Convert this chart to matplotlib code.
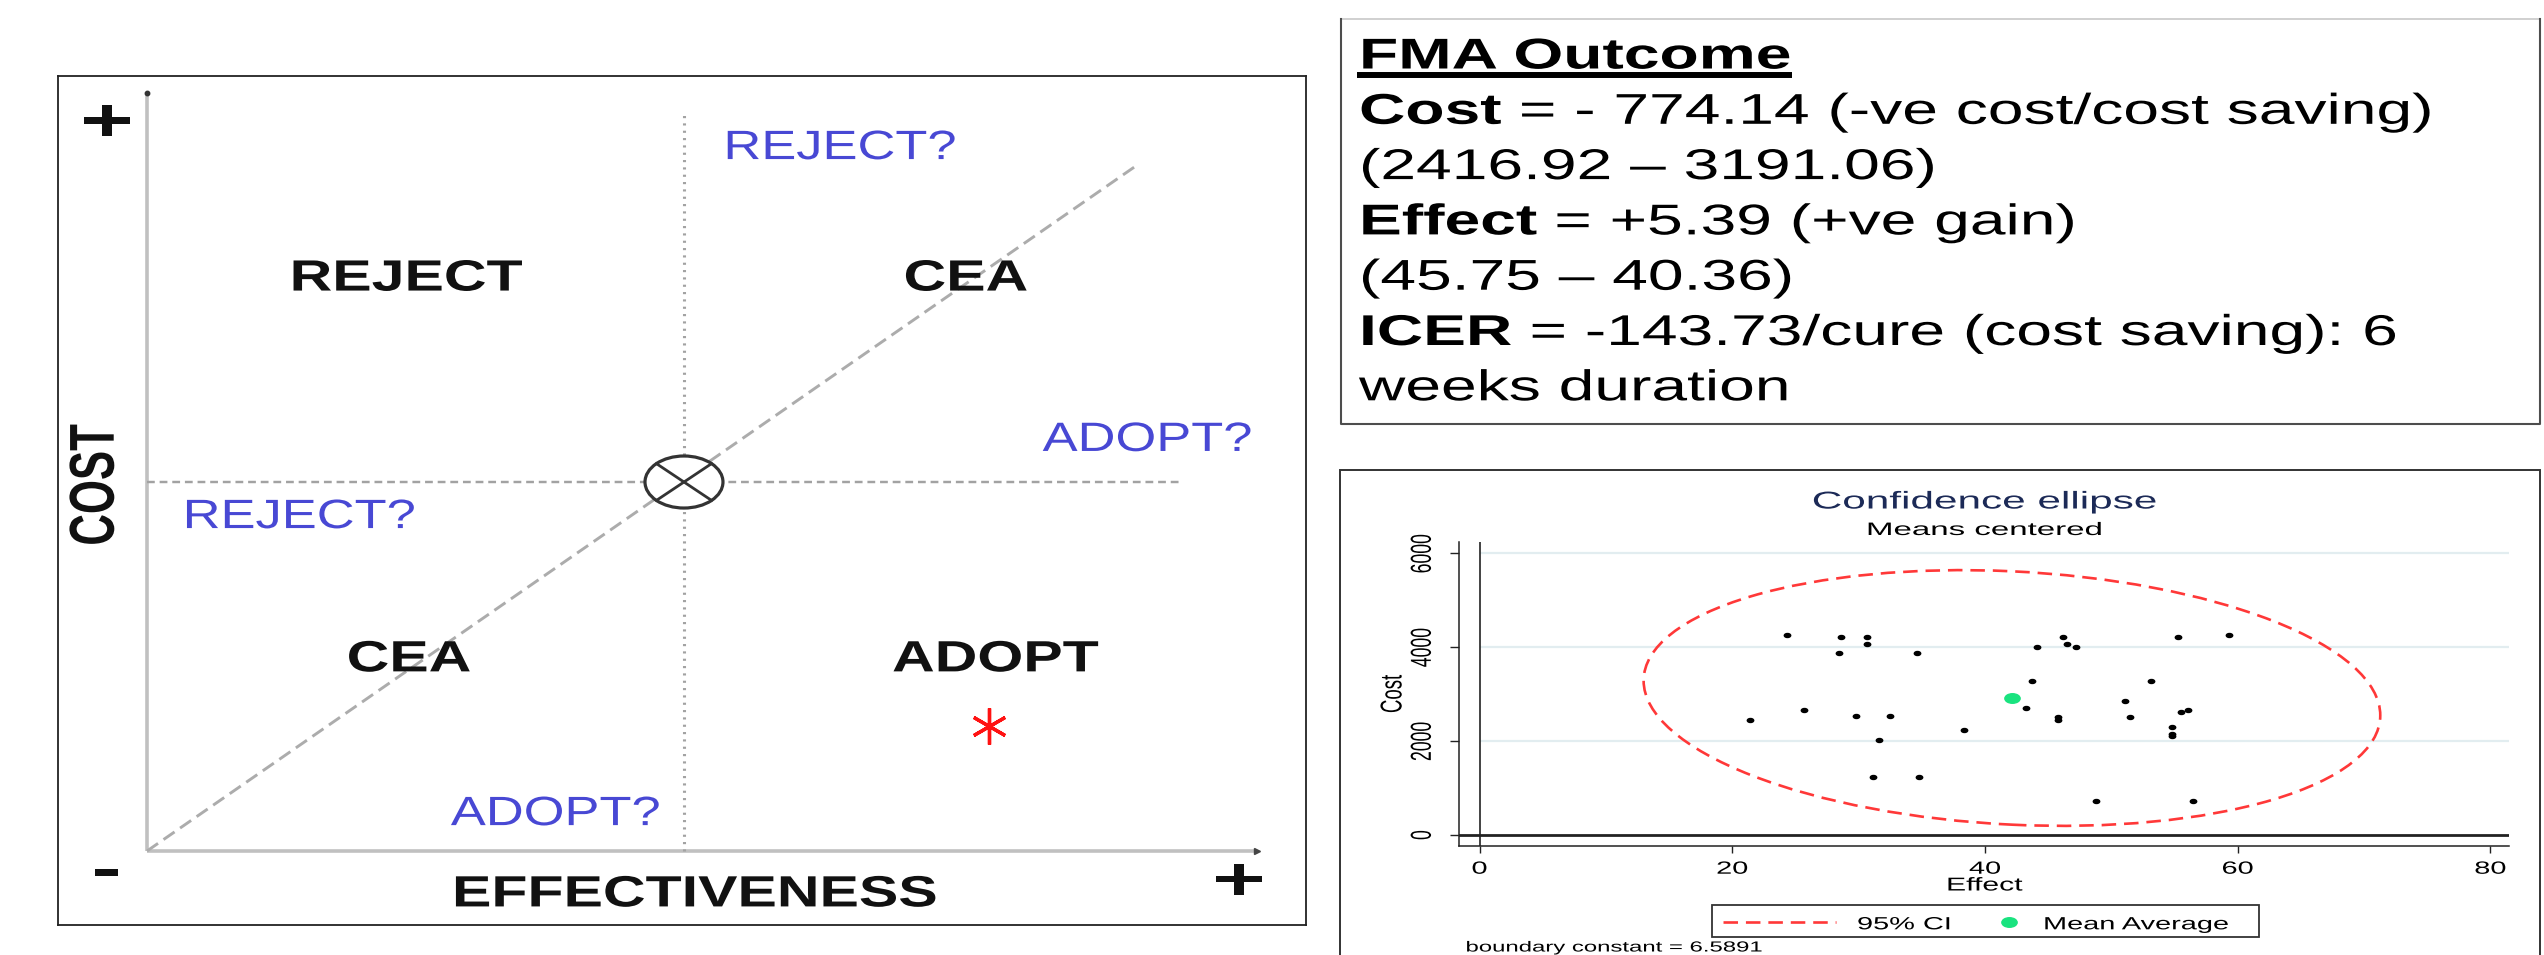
import matplotlib
matplotlib.use('Agg')
import numpy as np
import matplotlib.pyplot as plt
from matplotlib.patheffects import AbstractPathEffect
from matplotlib.transforms import Affine2D
from matplotlib.patches import Ellipse, Rectangle
from matplotlib.lines import Line2D
from matplotlib.path import Path

plt.rcParams['font.family'] = ['Liberation Sans', 'DejaVu Sans']

W, H, DPI = 2544, 955, 100

# ---------------- data ----------------
effect = [24.32, 28.60, 30.68, 30.62, 28.48, 34.59, 44.13, 46.20, 46.51, 47.18, 55.31, 59.28,
          43.70, 53.17, 51.09, 51.46, 43.27, 45.78, 45.78, 54.82, 54.82, 54.82, 55.49, 56.10,
          21.39, 25.67, 29.82, 32.45, 31.60, 38.32, 31.17, 34.78, 48.77, 56.47]
cost = [4258, 4230, 4230, 4073, 3874, 3874, 4002, 4230, 4073, 4002, 4216, 4258,
        3277, 3277, 2865, 2509, 2701, 2509, 2453, 2310, 2147, 2111, 2630, 2659,
        2453, 2659, 2538, 2538, 2033, 2239, 1244, 1244, 718, 718]
mean_effect = 42.13
mean_cost = 2920
ci_half_effect = 29.15
ci_half_cost = 2725
ci_rho = -0.1355
boundary_constant = 6.5891

effect_ticks = [0, 20, 40, 60, 80]
cost_ticks = [0, 2000, 4000, 6000]

quadrant_labels = ['REJECT', 'CEA', 'CEA', 'ADOPT']
uncertain_labels = ['REJECT?', 'ADOPT?', 'REJECT?', 'ADOPT?']
outcome_effectiveness = [0.568]
outcome_cost = [-0.661]

summary_bold = ['FMA Outcome', 'Cost', '', 'Effect', '', 'ICER', '']
summary_regular = ['', ' = - 774.14 (-ve cost/cost saving)', '(2416.92 \u2013 3191.06)',
                   ' = +5.39 (+ve gain)', '(45.75 \u2013 40.36)',
                   ' = -143.73/cure (cost saving): 6', 'weeks duration']


# ---------------- helpers ----------------
class Stretch(AbstractPathEffect):
    """Stretch glyph outlines (the source image is horizontally stretched)."""
    def __init__(self, sx=1.0, sy=1.0, anchor='center'):
        super().__init__()
        self.sx, self.sy, self.anchor = sx, sy, anchor

    def draw_path(self, renderer, gc, tpath, affine, rgbFace=None):
        ext = tpath.get_extents()
        cx = 0.0 if self.anchor == 'left' else (ext.x0 + ext.x1) / 2
        cy = (ext.y0 + ext.y1) / 2
        pre = Affine2D().translate(-cx, -cy).scale(self.sx, self.sy).translate(cx, cy)
        renderer.draw_path(gc, tpath, pre + affine, rgbFace)


def fx(x):
    return x / W


def fy(y):
    return 1 - y / H


fig = plt.figure(figsize=(W / DPI, H / DPI), dpi=DPI)
fig.patch.set_facecolor('white')
renderer = fig.canvas.get_renderer()

# ================= Left panel: cost-effectiveness plane =================
axL = fig.add_axes([fx(58), fy(925), (1306 - 58) / W, (925 - 76) / H])
axL.set_xlim(-1.1657, 1.1583)
axL.set_ylim(-1.2005, 1.1003)
axL.set_xticks([])
axL.set_yticks([])
for sp in axL.spines.values():
    sp.set_color('#222222')
    sp.set_linewidth(1.3)

axis_col = '#c0c0c0'
axL.plot([-1, -1], [-1, 1.054], color=axis_col, lw=2.6, solid_capstyle='butt', zorder=1)
axL.plot([-1, 1.067], [-1, -1], color=axis_col, lw=2.6, solid_capstyle='butt', zorder=1)
axL.plot([-1], [1.054], marker='o', ms=3.2, color='#333333', zorder=2)
axL.plot([1.067], [-1], marker='>', ms=5, color='#444444', zorder=2)

# dotted cross-hair
axL.plot([0, 0], [-1, 1.0], color='#a2a2a2', lw=2.2, linestyle=(0, (0.7, 1.7)), zorder=1)
axL.plot([-1, 0.925], [0, 0], color='#a2a2a2', lw=1.75, linestyle=(0, (3.2, 2.0)), zorder=1)
# dashed threshold line
axL.plot([-1, 0.845], [-1, 0.86], color='#acacac', lw=2.1, linestyle=(0, (4.6, 2.3)), zorder=1)

# origin symbol
a, b = 0.0726, 0.0705
axL.add_patch(Ellipse((0, 0), 2 * a, 2 * b, facecolor='white', edgecolor='#333333', lw=2.3, zorder=3))
axL.plot([-0.707 * a, 0.707 * a], [0.707 * b, -0.707 * b], color='#333333', lw=2.0, zorder=4)
axL.plot([-0.707 * a, 0.707 * a], [-0.707 * b, 0.707 * b], color='#333333', lw=2.0, zorder=4)

bold_kw = dict(fontsize=31.5, fontweight='bold', color='#111111', ha='center', va='center',
               path_effects=[Stretch(1.35, 1.0)], zorder=5)
quad_pos = [(-0.517, 0.550), (0.525, 0.550), (-0.512, -0.482), (0.580, -0.482)]
for s, (x, y) in zip(quadrant_labels, quad_pos):
    axL.text(x, y, s, **bold_kw)

blue_kw = dict(fontsize=29.5, color='#4848d4', ha='center', va='center',
               path_effects=[Stretch(1.28, 1.0)], zorder=5)
unc_pos = [(0.291, 0.905), (0.863, 0.114), (-0.716, -0.095), (-0.239, -0.900)]
for s, (x, y) in zip(uncertain_labels, unc_pos):
    axL.text(x, y, s, **blue_kw)

axL.text(0.020, -1.119, 'EFFECTIVENESS', **bold_kw)
axL.text(-1.096, -0.008, 'COST', fontsize=31.5, fontweight='bold', color='#111111',
         ha='center', va='center', rotation=90, path_effects=[Stretch(1.0, 1.45)])
sign_kw = dict(fontsize=44, fontweight='bold', color='#111111', ha='center', va='center',
               path_effects=[Stretch(1.5, 1.0)])
axL.text(-1.075, 0.967, '+', **sign_kw)
axL.text(-1.075, -1.060, '-', **sign_kw)
axL.text(1.034, -1.089, '+', **sign_kw)

axL.plot(outcome_effectiveness, outcome_cost, linestyle='none', marker=(6, 2, 0),
         ms=26, mew=2.4, color='#ff1212', zorder=6)

# ================= Top right: summary box =================
box_x0, box_y0, box_x1, box_y1 = 1341, 19, 2540, 424
fig.lines.append(Line2D([fx(box_x0), fx(box_x1)], [fy(box_y0), fy(box_y0)],
                        transform=fig.transFigure, color='#c8c8c8', lw=1.2))
fig.lines.append(Line2D([fx(box_x0), fx(box_x0), fx(box_x1), fx(box_x1)],
                        [fy(box_y0), fy(box_y1), fy(box_y1), fy(box_y0)],
                        transform=fig.transFigure, color='#4d4d4d', lw=1.5))
SX_BOX = 1.49
for i, (bpart, rpart) in enumerate(zip(summary_bold, summary_regular)):
    ybase = 68.5 + i * 55.3
    x = 1359.0
    if bpart:
        t = fig.text(fx(x), fy(ybase), bpart, fontsize=31, fontweight='bold', ha='left',
                     va='baseline', path_effects=[Stretch(SX_BOX, 1.0, 'left')])
        wpx = t.get_window_extent(renderer).width * SX_BOX
        if i == 0:
            fig.lines.append(Line2D([fx(x - 2), fx(x + wpx + 2)], [fy(75.5), fy(75.5)],
                                    transform=fig.transFigure, color='black', lw=4.3,
                                    solid_capstyle='butt'))
        x += wpx
    if rpart:
        fig.text(fx(x), fy(ybase), rpart, fontsize=31, ha='left', va='baseline',
                 path_effects=[Stretch(SX_BOX, 1.0, 'left')])

# ================= Bottom right: confidence ellipse =================
fig.patches.append(Rectangle((fx(1340), fy(975)), 1200 / W, 505 / H,
                             transform=fig.transFigure, fill=False, edgecolor='#333333', lw=1.4))

ax = fig.add_axes([fx(1459.4), fy(845.7), 1050 / W, 304 / H])
ax.set_xlim(-1.6, 81.5)
ax.set_ylim(-228, 6251)
ax.set_facecolor('white')
for side in ('top', 'right'):
    ax.spines[side].set_visible(False)
for side in ('left', 'bottom'):
    ax.spines[side].set_color('#222222')
    ax.spines[side].set_linewidth(1.1)

ax.hlines(cost_ticks[1:], 0, 81.5, colors='#e2edf0', lw=1.6, zorder=0)
ax.axhline(0, color='#222222', lw=2.0, zorder=1)
ax.axvline(0, color='#222222', lw=1.2, zorder=1)

chol = Affine2D(np.array([[ci_half_effect, 0.0, mean_effect],
                          [ci_rho * ci_half_cost, ci_half_cost * np.sqrt(1 - ci_rho ** 2), mean_cost],
                          [0.0, 0.0, 1.0]]))
ax.add_patch(Ellipse((0, 0), 2, 2, transform=chol + ax.transData, fill=False,
                     edgecolor='#ff3838', lw=1.9, linestyle=(0, (5.5, 3)), zorder=2))

oval = Path.unit_circle().transformed(Affine2D().scale(1.6, 1.0))
ax.plot(effect, cost, linestyle='none', marker=oval, ms=4.6, color='black', zorder=3)
ax.plot([mean_effect], [mean_cost], linestyle='none', marker=oval, ms=11, color='#19e37f', zorder=4)

ax.set_xticks(effect_ticks)
ax.set_yticks(cost_ticks)
ax.tick_params(axis='x', length=5, width=1.0, pad=5.8, labelsize=12.7, color='#222222')
ax.tick_params(axis='y', length=6.5, width=1.0, pad=14, labelsize=12.7, labelrotation=90,
               color='#222222')
for lab in ax.get_xticklabels():
    lab.set_path_effects([Stretch(1.64, 1.0)])
for lab in ax.get_yticklabels():
    lab.set_va('center')
    lab.set_path_effects([Stretch(1.0, 1.64)])

ax.set_xlabel('Effect', fontsize=13.4, path_effects=[Stretch(1.62, 1.0)])
ax.xaxis.label.set_va('center')
ax.xaxis.set_label_coords(0.5003, (845.7 - 886) / 304)
ax.set_ylabel('Cost', fontsize=13.4, path_effects=[Stretch(1.0, 1.62)])
ax.yaxis.label.set_va('center')
ax.yaxis.set_label_coords((1393 - 1459.4) / 1050, (845.7 - 694) / 304)

ax.set_title('Confidence ellipse', fontsize=17.5, color='#1c2a57', pad=23.9,
             path_effects=[Stretch(1.74, 1.0)])
ax.text(0.5, 1 + (541.7 - 535) / 304, 'Means centered', transform=ax.transAxes,
        ha='center', va='baseline', fontsize=13, path_effects=[Stretch(1.83, 1.0)])

# legend (drawn in figure pixels)
fig.patches.append(Rectangle((fx(1711.7), fy(937.3)), (2258.5 - 1711.7) / W, (937.3 - 905) / H,
                             transform=fig.transFigure, fill=False, edgecolor='#333333', lw=1.3))
fig.lines.append(Line2D([fx(1722.7), fx(1836)], [fy(921.5), fy(921.5)], transform=fig.transFigure,
                        color='#ff3838', lw=1.9, linestyle=(0, (5.5, 3))))
fig.lines.append(Line2D([fx(2009)], [fy(922)], transform=fig.transFigure, linestyle='none',
                        marker=oval, ms=11, color='#19e37f'))
fig.text(fx(1857), fy(929.3), '95% CI', fontsize=12.7, ha='left', va='baseline',
         path_effects=[Stretch(1.64, 1.0, 'left')])
fig.text(fx(2043), fy(929.3), 'Mean Average', fontsize=12.7, ha='left', va='baseline',
         path_effects=[Stretch(1.64, 1.0, 'left')])

fig.text(fx(1465.5), fy(951.5), f'boundary constant = {boundary_constant}', fontsize=10.5,
         ha='left', va='baseline', path_effects=[Stretch(1.64, 1.0, 'left')])

fig.savefig('out.png', dpi=DPI)
